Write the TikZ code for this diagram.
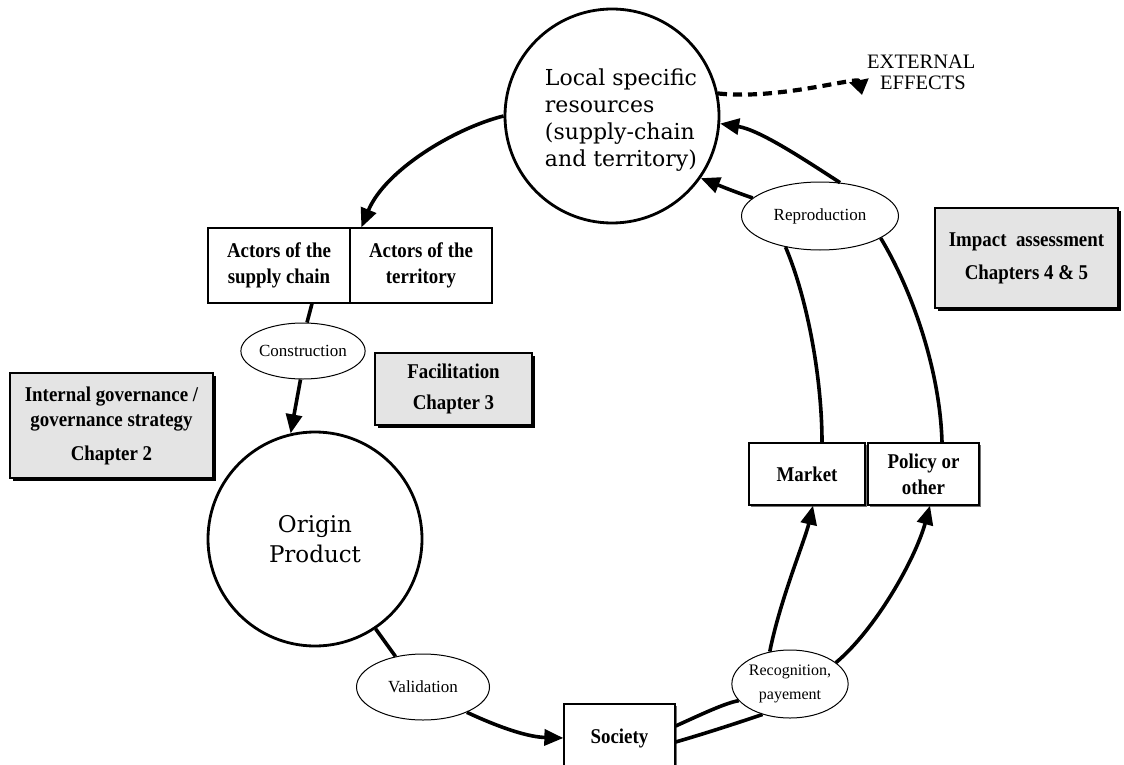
\documentclass[tikz,border=0pt]{standalone}
\usepackage{fontspec}
\setmainfont{Liberation Serif}
\newfontfamily\hubfont{DejaVu Serif}
\newfontfamily\boxfont{Liberation Serif}[FakeStretch=0.9]
\usetikzlibrary{arrows.meta,shapes.geometric,shadows}
\definecolor{panelgrey}{HTML}{E4E4E4}

\begin{document}
\begin{tikzpicture}[x=1pt,y=-1pt,
  hub/.style={circle, draw, line width=2.8pt, minimum size=214pt,
    inner sep=0pt, align=center, font=\hubfont\fontsize{23}{30}\selectfont},
  actorbox/.style={rectangle, draw, line width=1.2pt, fill=white, minimum width=142pt,
    minimum height=75pt, inner sep=0pt, align=center, font=\boxfont\bfseries\fontsize{21}{26}\selectfont},
  outbox/.style={rectangle, draw, line width=1.3pt, fill=white, inner sep=0pt, align=center,
    font=\boxfont\bfseries\fontsize{21}{26}\selectfont,
    drop shadow={shadow xshift=2pt, shadow yshift=-2pt, fill=black!55, opacity=1}},
  chapterbox/.style={rectangle, draw, line width=1.3pt, fill=panelgrey, inner sep=0pt, align=center,
    font=\boxfont\bfseries\fontsize{21}{25}\selectfont,
    drop shadow={shadow xshift=3pt, shadow yshift=-3pt, fill=black, opacity=1}},
  stage/.style={ellipse, draw, line width=1pt, fill=white, inner sep=0pt, align=center,
    font=\fontsize{17}{24}\selectfont},
  link/.style={line width=3.6pt},
  flow/.style={link, -{Triangle[length=19pt,width=16pt]}},
]
\clip (0,0) rectangle (1124,765);

% main resource pools
\node[hub] (res) at (612,116) {};
\node[font=\hubfont\fontsize{22}{27}\selectfont, align=left] (resT) at (621,120)
  {Local specific\\resources\\(supply-chain\\and territory)};
\node[hub] (origin) at (315,539) {Origin\\Product};

% actors
\node[actorbox] (actL) at (279,265.5) {Actors of the\\supply chain};
\node[actorbox] (actR) at (421,265.5) {Actors of the\\territory};

% process stages
\node[stage, minimum width=109pt, minimum height=56pt] (constr) at (303,351) {Construction};
\node[stage, minimum width=133pt, minimum height=66pt] (valid) at (423,687) {Validation};
\node[stage, minimum width=98pt, minimum height=68pt, font=\fontsize{16}{24}\selectfont]
  (recog) at (790,684) {Recognition,\\payement};
\node[stage, minimum width=157pt, minimum height=68pt] (repro) at (820,216) {Reproduction};

% outcome boxes
\node[outbox, minimum width=116pt, minimum height=62pt] (market) at (807,474) {Market};
\node[outbox, minimum width=111pt, minimum height=62pt] (policy) at (923.5,474) {Policy or\\other};
\node[outbox, minimum width=111pt, minimum height=68pt] (society) at (619.5,738) {Society};

% chapter panels
\node[chapterbox, minimum width=203pt, minimum height=105pt] (govern) at (111.5,425.5)
  {Internal governance /\\governance strategy\\[9pt]Chapter 2};
\node[chapterbox, minimum width=157pt, minimum height=72pt] (facil) at (453.5,389)
  {Facilitation\\[6pt]Chapter 3};
\node[chapterbox, minimum width=183pt, minimum height=100pt] (impact) at (1026.5,258)
  {Impact~~assessment\\[8pt]Chapters 4 \& 5};

% external effects
\coordinate (extTip) at (862,95);
\node[font=\fontsize{20.5}{21}\selectfont, align=left, anchor=west, inner sep=0pt] (extT) at (867,72)
  {EXTERNAL\\\hspace*{13pt}EFFECTS};

% cycle connectors
\draw[flow] (res.180) .. controls (455,128) and (385,170) .. ([xshift=12pt]actR.north west);
\draw[link] ([xshift=33pt]actL.south) -- (constr.82);
\draw[flow] (constr.265) -- (origin.103);
\draw[link] (origin.304) -- (valid.132);
\draw[flow] (valid.330) .. controls (505,730) and (530,737) .. (society.west);
\draw[link] ([yshift=12pt]society.east) .. controls (700,715) and (725,703) .. (recog.198);
\draw[link] ([yshift=-4pt]society.east) .. controls (710,732) and (740,722) .. (recog.228);
\draw[flow] (recog.122) .. controls (780,600) and (805,540) .. ([xshift=6pt]market.south);
\draw[flow] (recog.25) .. controls (875,630) and (915,560) .. ([xshift=6.5pt]policy.south);
\draw[link] ([xshift=15pt]market.north) .. controls (822,380) and (808,300) .. (repro.222);
\draw[link] ([xshift=18.5pt]policy.north) .. controls (940,370) and (912,290) .. (repro.340);
\draw[flow] (repro.59) .. controls (805,160) and (760,130) .. (res.356);
\draw[flow] (repro.165) .. controls (735,192) and (718,185) .. (res.325);
\draw[line width=4.2pt, dash pattern=on 9pt off 6pt, -{Triangle[length=15pt,width=19pt]}]
  (res.12) .. controls (780,100) and (858,76) .. (extTip);
\end{tikzpicture}
\end{document}
